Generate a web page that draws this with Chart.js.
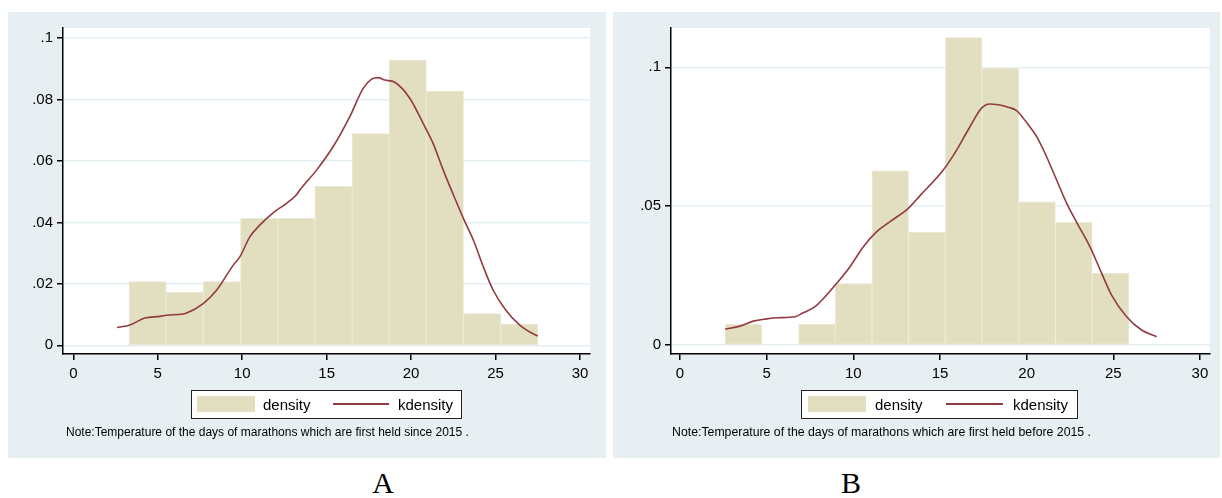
<!DOCTYPE html>
<html>
<head>
<meta charset="utf-8">
<script src="https://cdn.jsdelivr.net/npm/chart.js@4.4.1/dist/chart.umd.min.js"></script>
<style>
  html, body { margin: 0; padding: 0; background: #ffffff; }
  body { width: 1222px; height: 498px; position: relative; overflow: hidden;
         font-family: "Liberation Sans", Arial, sans-serif; color: #000; }
  .panel { position: absolute; background: #e8eff2; }
  .panel canvas { position: absolute; left: 0; top: 0; }
  .lgbox { position: absolute; background: #fff; border: 1px solid #222; box-sizing: border-box; }
  .sw { position: absolute; background: #e2dec0; }
  .ln { position: absolute; background: #913a40; height: 2px; }
  .lt { position: absolute; font-size: 15px; line-height: 15px; white-space: nowrap; }
  .note { position: absolute; font-size: 12px; line-height: 12px; white-space: nowrap; }
  .cap { position: absolute; font-family: "Liberation Serif", "Times New Roman", serif; font-size: 30px; line-height: 30px; transform: translateX(-50%); }
</style>
</head>
<body>
<div class="panel" style="left:8px;top:12px;width:598px;height:446px;"><canvas id="cA" width="598" height="446"></canvas></div>
<div class="panel" style="left:613px;top:12px;width:607px;height:446px;"><canvas id="cB" width="607" height="446"></canvas></div>

<!-- Legend A -->
<div class="lgbox" style="left:191px;top:390px;width:271px;height:29px;"></div>
<div class="sw" style="left:197px;top:396px;width:58px;height:16px;"></div>
<div class="lt" style="left:263px;top:397px;">density</div>
<div class="ln" style="left:333px;top:403px;width:56px;"></div>
<div class="lt" style="left:398px;top:397px;">kdensity</div>
<div class="note" style="left:66px;top:426px;">Note:Temperature of the days of marathons which are first held since 2015 .</div>

<!-- Legend B -->
<div class="lgbox" style="left:801px;top:390px;width:277px;height:29px;"></div>
<div class="sw" style="left:808px;top:396px;width:58px;height:16px;"></div>
<div class="lt" style="left:875px;top:397px;">density</div>
<div class="ln" style="left:946px;top:403px;width:57px;"></div>
<div class="lt" style="left:1013px;top:397px;">kdensity</div>
<div class="note" style="left:672px;top:426px;font-size:12.3px;">Note:Temperature of the days of marathons which are first held before 2015 .</div>

<div class="cap" style="left:383px;top:468px;">A</div>
<div class="cap" style="left:851px;top:468px;">B</div>

<script>
// ---------- data ----------
const xTicks = [0, 5, 10, 15, 20, 25, 30];
const xTickLabels = ['0', '5', '10', '15', '20', '25', '30'];

const yTicksA = [0, 0.02, 0.04, 0.06, 0.08, 0.1];
const yTickLabelsA = ['0', '.02', '.04', '.06', '.08', '.1'];
const yTicksB = [0, 0.05, 0.1];
const yTickLabelsB = ['0', '.05', '.1'];

// Panel A histogram (bin centres, density)
const binCentersA = [4.4, 6.6, 8.8, 11.0, 13.2, 15.4, 17.6, 19.8, 22.0, 24.2, 26.4];
const densityA = [0.0207, 0.0172, 0.0207, 0.0413, 0.0413, 0.0517, 0.0689, 0.0928, 0.0827, 0.0103, 0.0069];

// Panel A kernel density
const kdeXA = [2.59, 3.35, 4.24, 5.13, 5.52, 6.41, 6.71, 7.69, 8.48, 9.47, 9.86, 10.45, 11.04, 11.83, 12.62, 13.2, 13.41, 14.4, 15.38, 16.37, 17.16, 17.66, 18.05, 18.44, 19.03, 19.92, 20.71, 21.3, 21.9, 22.5, 23.1, 23.7, 24.3, 24.85, 25.6, 26.4, 27.0, 27.5];
const kdeYA = [0.0058, 0.0066, 0.0089, 0.0094, 0.0098, 0.0101, 0.0105, 0.0136, 0.0179, 0.0261, 0.0288, 0.0353, 0.0391, 0.0431, 0.0462, 0.0489, 0.0505, 0.057, 0.0646, 0.0744, 0.0836, 0.0866, 0.0871, 0.0863, 0.0856, 0.0804, 0.0722, 0.0657, 0.057, 0.049, 0.0412, 0.034, 0.0252, 0.018, 0.0115, 0.0067, 0.0044, 0.003];

// Panel B histogram
const binCentersB = [3.66, 5.78, 7.90, 10.01, 12.13, 14.25, 16.37, 18.49, 20.60, 22.72, 24.84];
const densityB = [0.0074, 0, 0.0074, 0.0221, 0.0627, 0.0406, 0.1107, 0.0997, 0.0516, 0.0442, 0.0258];

// Panel B kernel density
const kdeXB = [2.6, 3.46, 4.23, 5.0, 5.58, 6.64, 7.11, 7.79, 8.46, 9.04, 9.81, 10.58, 11.35, 12.12, 13.17, 13.85, 15.19, 15.96, 16.73, 17.4, 17.88, 18.37, 18.94, 19.42, 20.0, 20.58, 21.15, 21.73, 22.3, 22.9, 23.65, 24.33, 24.9, 25.77, 26.63, 27.5];
const kdeYB = [0.0057, 0.0068, 0.0086, 0.0094, 0.0098, 0.0102, 0.0116, 0.0138, 0.018, 0.0222, 0.0282, 0.0354, 0.0408, 0.0444, 0.0492, 0.0538, 0.063, 0.0702, 0.0786, 0.0853, 0.0868, 0.0865, 0.0856, 0.0844, 0.0801, 0.075, 0.0678, 0.0594, 0.0512, 0.044, 0.0354, 0.0258, 0.018, 0.0102, 0.0054, 0.003];

// ---------- rendering ----------
Chart.defaults.font.family = '"Liberation Sans", Arial, sans-serif';
Chart.defaults.font.size = 15;
Chart.defaults.color = '#000';

const whiteArea = {
  id: 'whiteArea',
  beforeDraw(chart) {
    const a = chart.chartArea, ctx = chart.ctx;
    ctx.save();
    ctx.fillStyle = '#ffffff';
    ctx.fillRect(a.left, a.top, a.right - a.left, a.bottom - a.top);
    ctx.restore();
  }
};

function makeChart(id, cfg) {
  const bars = cfg.centers.map((x, i) => ({ x: x, y: cfg.dens[i] }));
  const kde = cfg.kx.map((x, i) => ({ x: x, y: cfg.ky[i] }));
  return new Chart(document.getElementById(id), {
    type: 'bar',
    data: {
      datasets: [
        {
          type: 'line', label: 'kdensity', data: kde, order: 0,
          borderColor: '#913a40', borderWidth: 1.6, pointRadius: 0,
          cubicInterpolationMode: 'monotone', fill: false
        },
        {
          type: 'bar', label: 'density', data: bars, order: 1,
          backgroundColor: '#e2dec0', borderColor: '#ebe8d4', borderWidth: 1,
          barPercentage: 1, categoryPercentage: 1, borderSkipped: false
        }
      ]
    },
    options: {
      responsive: false, animation: false, events: [],
      layout: { padding: { left: 0, top: 16, right: cfg.padRight, bottom: 74 } },
      plugins: { legend: { display: false }, tooltip: { enabled: false } },
      scales: {
        x: {
          type: 'linear', offset: false, min: cfg.xmin, max: cfg.xmax,
          grid: { display: true, drawOnChartArea: false, offset: false, tickLength: 6, tickColor: '#000', lineWidth: 1.5 },
          border: { display: true, color: '#000', width: 1.5 },
          ticks: { padding: 5, maxRotation: 0, autoSkip: false,
                   callback: (v, i) => xTickLabels[i] },
          afterBuildTicks: s => { s.ticks = xTicks.map(v => ({ value: v })); },
          afterFit: s => { s.height = 30; }
        },
        y: {
          type: 'linear', min: cfg.ymin, max: cfg.ymax,
          grid: { color: '#e4edf1', lineWidth: 1.5, tickLength: 6, tickColor: '#000' },
          border: { display: true, color: '#000', width: 1.5 },
          ticks: { padding: 4, autoSkip: false, callback: (v, i) => cfg.ylabels[i] },
          afterBuildTicks: s => { s.ticks = cfg.yticks.map(v => ({ value: v })); },
          afterFit: s => { s.width = cfg.yWidth; }
        }
      }
    },
    plugins: [whiteArea]
  });
}

makeChart('cA', {
  centers: binCentersA, dens: densityA, kx: kdeXA, ky: kdeYA,
  xmin: -0.61, xmax: 30.59, ymin: -0.00283, ymax: 0.10325,
  yticks: yTicksA, ylabels: yTickLabelsA, yWidth: 55, padRight: 16
});
makeChart('cB', {
  centers: binCentersB, dens: densityB, kx: kdeXB, ky: kdeYB,
  xmin: -0.52, xmax: 30.58, ymin: -0.00324, ymax: 0.11415,
  yticks: yTicksB, ylabels: yTickLabelsB, yWidth: 58, padRight: 10
});
</script>
</body>
</html>
